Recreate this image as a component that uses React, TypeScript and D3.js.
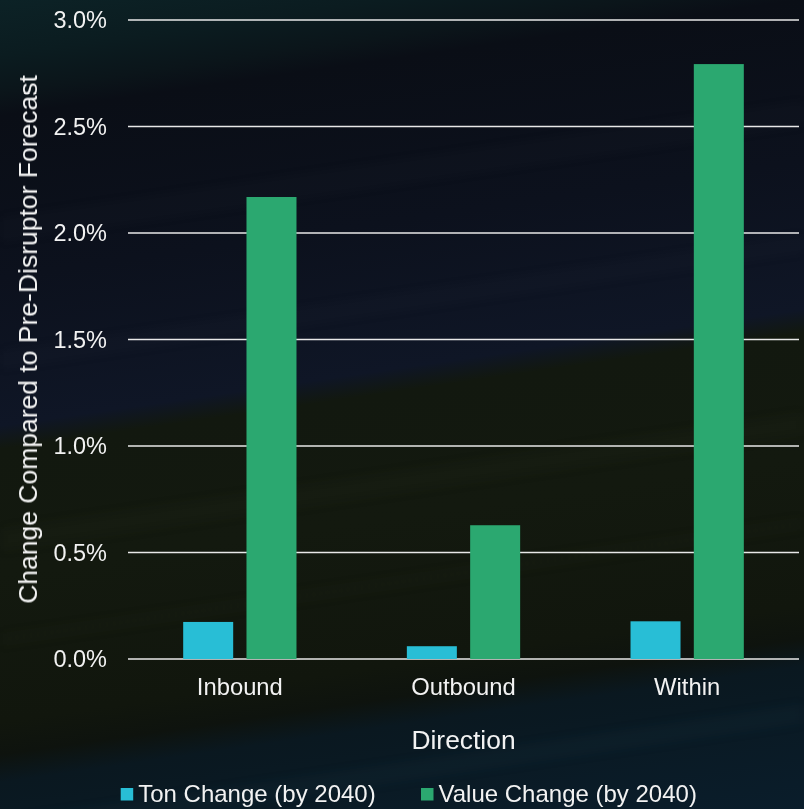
import React from "react";
import * as d3 from "d3";

const categories = ["Inbound", "Outbound", "Within"];
const seriesNames = ["Ton Change (by 2040)", "Value Change (by 2040)"];
const tonChange = [0.00174, 0.0006, 0.00177];
const valueChange = [0.02169, 0.00628, 0.02793];
const seriesColors = ["#28BED6", "#2BA870"];
const yTicks = [0, 0.005, 0.01, 0.015, 0.02, 0.025, 0.03];
const yTitle = "Change Compared to Pre-Disruptor Forecast";
const xTitle = "Direction";

const W = 804;
const H = 809;
const plot = { left: 128, right: 799, top: 20, bottom: 659 };
const FONT = "'Liberation Sans', Arial, Helvetica, sans-serif";
const TEXT = "#F2F2F2";

// background bands run along a shallow upward slope (dy/dx ≈ -0.145)
const bgStops: [number, string][] = [
  [0.0, "#0c2226"],
  [0.06, "#0b1c20"],
  [0.1, "#0b151a"],
  [0.125, "#0a0e16"],
  [0.3, "#0c111d"],
  [0.46, "#0f1626"],
  [0.485, "#12180f"],
  [0.62, "#13190f"],
  [0.78, "#11160d"],
  [0.815, "#0e130e"],
  [0.845, "#0a1820"],
  [1.0, "#0a1d2b"],
];

// faint light streaks over the background: [offset along gradient axis, thickness, opacity, colour]
const streaks: [number, number, number, string][] = [
  [230, 26, 0.02, "#8090b0"],
  [360, 20, 0.02, "#8090b0"],
  [540, 24, 0.025, "#a0b070"],
  [640, 14, 0.02, "#a0b070"],
  [830, 20, 0.03, "#5aa0b0"],
];

export default function App() {
  const x0 = d3
    .scaleBand<string>()
    .domain(categories)
    .range([plot.left, plot.right])
    .padding(0);
  const groupW = x0.bandwidth() * 0.5066;
  const x1 = d3
    .scaleBand<string>()
    .domain(seriesNames)
    .range([(x0.bandwidth() - groupW) / 2, (x0.bandwidth() + groupW) / 2])
    .paddingInner(0.21)
    .paddingOuter(0);
  const y = d3.scaleLinear().domain([0, 0.03]).range([plot.bottom, plot.top]);
  const fmt = d3.format(".1%");

  const data = categories.map((c, i) => ({
    category: c,
    values: [tonChange[i], valueChange[i]],
  }));

  const slope = -0.145;
  const streakPath = (s: number, t: number) => {
    // band where y + 0.145x lies in [s - t/2, s + t/2]
    const a = s - t / 2;
    const b = s + t / 2;
    return `M0,${a} L${W},${a + slope * W} L${W},${b + slope * W} L0,${b} Z`;
  };

  const midY = (plot.top + plot.bottom) / 2;
  const midX = (plot.left + plot.right) / 2;

  return (
    <div style={{ position: "absolute", left: 0, top: 0 }}>
      <svg width={W} height={H} style={{ display: "block" }} fontFamily={FONT}>
        <defs>
          <linearGradient id="bg" gradientUnits="userSpaceOnUse" x1={0} y1={0} x2={131.5} y2={907}>
            {bgStops.map(([o, c], i) => (
              <stop key={i} offset={o} stopColor={c} />
            ))}
          </linearGradient>
          <filter id="soft" x="-10%" y="-50%" width="120%" height="200%">
            <feGaussianBlur stdDeviation="6" />
          </filter>
        </defs>
        <rect x={0} y={0} width={W} height={H} fill="url(#bg)" />
        <g filter="url(#soft)">
          {streaks.map(([s, t, op, c], i) => (
            <path key={i} d={streakPath(s, t)} fill={c} opacity={op} />
          ))}
        </g>

        {/* gridlines */}
        <g>
          {yTicks.map((t) => (
            <line
              key={t}
              x1={plot.left}
              x2={plot.right}
              y1={y(t)}
              y2={y(t)}
              stroke="#E8E8E8"
              strokeWidth={1.6}
            />
          ))}
        </g>

        {/* y tick labels */}
        <g fill={TEXT} fontSize={23.5} textAnchor="end">
          {yTicks.map((t) => (
            <text key={t} x={107} y={y(t) + 8.4}>
              {fmt(t)}
            </text>
          ))}
        </g>

        {/* bars */}
        <g>
          {data.map((d) => (
            <g key={d.category} transform={`translate(${x0(d.category)},0)`}>
              {d.values.map((v, j) => (
                <rect
                  key={j}
                  x={x1(seriesNames[j])}
                  y={y(v)}
                  width={x1.bandwidth()}
                  height={y(0) - y(v)}
                  fill={seriesColors[j]}
                />
              ))}
            </g>
          ))}
        </g>

        {/* category labels */}
        <g fill={TEXT} fontSize={23.8} textAnchor="middle">
          {categories.map((c) => (
            <text key={c} x={(x0(c) as number) + x0.bandwidth() / 2} y={695}>
              {c}
            </text>
          ))}
        </g>

        {/* axis titles */}
        <text x={midX} y={749} fill={TEXT} fontSize={26.4} textAnchor="middle">
          {xTitle}
        </text>
        <text
          transform={`translate(37,${midY}) rotate(-90)`}
          fill={TEXT}
          fontSize={26.5}
          textAnchor="middle"
        >
          {yTitle}
        </text>

        {/* legend */}
        <g fontSize={24} fill={TEXT}>
          {seriesNames.map((s, i) => {
            const lx = i === 0 ? 120.7 : 421;
            return (
              <g key={s}>
                <rect x={lx} y={788} width={12.5} height={12.5} fill={seriesColors[i]} />
                <text x={lx + 17.5} y={801.5}>
                  {s}
                </text>
              </g>
            );
          })}
        </g>
      </svg>
    </div>
  );
}
